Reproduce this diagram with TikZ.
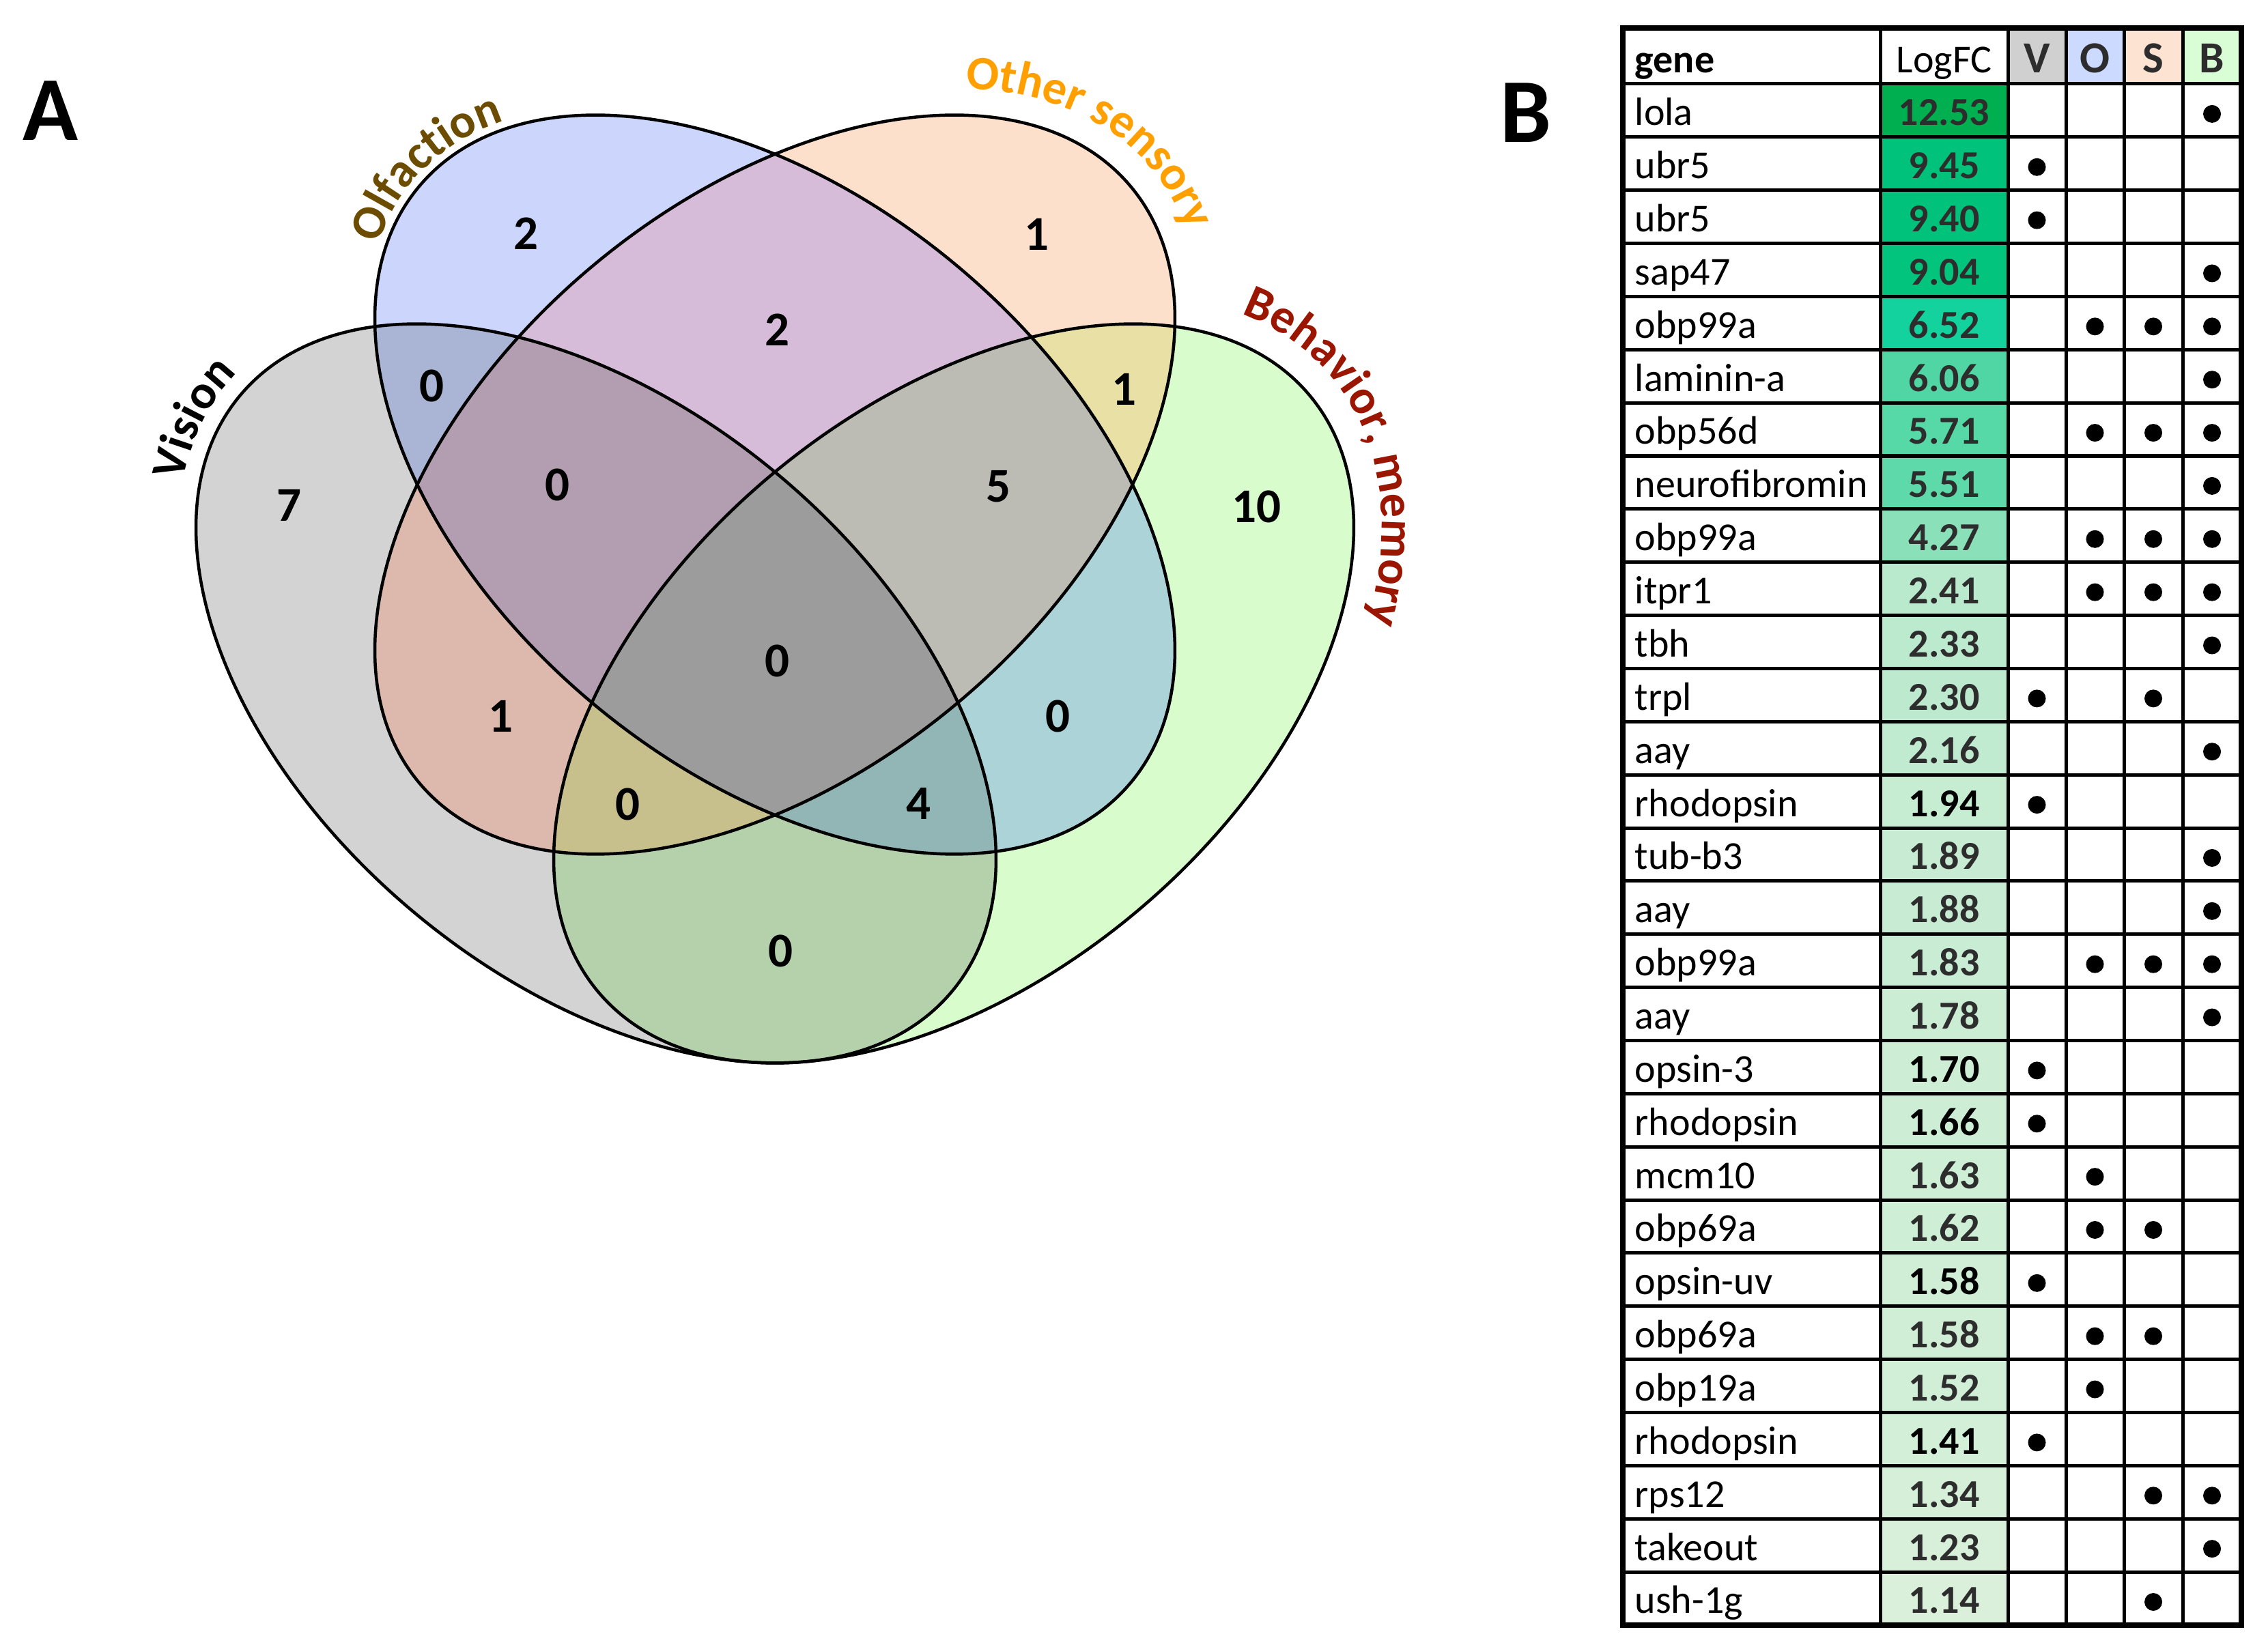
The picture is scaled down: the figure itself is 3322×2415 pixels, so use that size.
\documentclass[tikz,border=0pt]{standalone}
\usepackage{fontspec}
\setmainfont{Carlito}
\usetikzlibrary{decorations.text}
% single and overlap region colours
\definecolor{rV}{RGB}{211,211,211}
\definecolor{rO}{RGB}{204,213,252}
\definecolor{rS}{RGB}{253,224,203}
\definecolor{rB}{RGB}{216,252,204}
\definecolor{rVO}{RGB}{170,180,212}
\definecolor{rVS}{RGB}{220,185,172}
\definecolor{rVB}{RGB}{181,209,172}
\definecolor{rOS}{RGB}{214,188,216}
\definecolor{rOB}{RGB}{172,212,216}
\definecolor{rSB}{RGB}{232,224,164}
\definecolor{rVOS}{RGB}{179,157,176}
\definecolor{rVOB}{RGB}{146,182,182}
\definecolor{rVSB}{RGB}{200,192,140}
\definecolor{rOSB}{RGB}{188,188,180}
\definecolor{rVOSB}{RGB}{156,156,156}
\definecolor{olftxt}{RGB}{107,76,0}
\definecolor{othtxt}{RGB}{255,160,0}
\definecolor{behtxt}{RGB}{155,22,0}
\definecolor{numgray}{RGB}{45,45,45}
\definecolor{lowg}{RGB}{219,240,219}
\definecolor{midg}{RGB}{138,225,185}
\definecolor{hV}{RGB}{208,208,208}
\definecolor{hO}{RGB}{205,218,255}
\definecolor{hS}{RGB}{253,228,210}
\definecolor{hB}{RGB}{217,253,212}
\definecolor{cA}{RGB}{0,176,80}
\definecolor{cB}{RGB}{0,194,122}
\definecolor{cC}{RGB}{2,196,125}
\definecolor{cD}{RGB}{20,210,158}
\definecolor{cE}{RGB}{80,214,164}
\definecolor{cF}{RGB}{86,216,167}
\definecolor{cG}{RGB}{94,218,170}
\definecolor{cH}{RGB}{138,225,185}
\newcommand\lblfont{\fontsize{20}{24}\selectfont\bfseries}
\newcommand\numfont{\fontsize{20.2}{24}\selectfont\bfseries}
\newcommand\tabfont{\fontsize{16.5}{20}\selectfont}
\newcommand\hdrfont{\fontsize{18.5}{22}\selectfont\bfseries}
\newcommand\panelfont{\fontsize{38}{44}\selectfont\bfseries}
\newcommand\clipV{\clip[rotate around={-40:(cV)}] (cV) ellipse [x radius=680, y radius=417];}
\newcommand\clipO{\clip[rotate around={-40:(cO)}] (cO) ellipse [x radius=680, y radius=417];}
\newcommand\clipS{\clip[rotate around={40:(cS)}] (cS) ellipse [x radius=680, y radius=417];}
\newcommand\clipB{\clip[rotate around={40:(cB)}] (cB) ellipse [x radius=680, y radius=417];}
\newcommand\paint[1]{\fill[#1] (0,0) rectangle (2300,2415);}
\newcommand\trow[9]{%
  \pgfmathsetmacro\rb{2292-#1*77.86}%
  \pgfmathsetmacro\rc{\rb+38.93-5}%
  \fill[#4] (2754,\rb) rectangle (2941,\rb+77.86);
  \node[genetxt] (g#1) at (2394,\rb+17) {#2};
  \node[lfcval, text=#5] (l#1) at (2847.5,\rb+17) {#3};
  \ifnum#6=1 \node[tdot] (dv#1) at (2983.5,\rc) {};\fi
  \ifnum#7=1 \node[tdot] (do#1) at (3068.5,\rc) {};\fi
  \ifnum#8=1 \node[tdot] (ds#1) at (3154,\rc) {};\fi
  \ifnum#9=1 \node[tdot] (db#1) at (3240,\rc) {};\fi
}
\begin{document}
\begin{tikzpicture}[x=0.01cm, y=0.01cm,
  vline/.style={draw=black, line width=0.045cm},
  regnum/.style={inner sep=0, font=\numfont},
  genetxt/.style={anchor=base west, inner sep=0, font=\tabfont},
  lfcval/.style={anchor=base, inner sep=0, font=\tabfont\bfseries},
  hdr/.style={anchor=base, inner sep=0, font=\hdrfont, text=numgray},
  tdot/.style={circle, fill=black, inner sep=0, minimum size=0.26cm},
  gridln/.style={line width=0.05cm},
  panel/.style={inner sep=0, font=\panelfont}]
\useasboundingbox (0,0) rectangle (3322,2415);
\fill[white] (0,0) rectangle (3322,2415);
\coordinate (cV) at (873,1399);
\coordinate (cO) at (1135,1705);
\coordinate (cS) at (1135,1705);
\coordinate (cB) at (1397,1399);
% region fills, painted from single sets up to the four-way overlap
\begin{scope}\clipV\paint{rV}\end{scope}
\begin{scope}\clipO\paint{rO}\end{scope}
\begin{scope}\clipS\paint{rS}\end{scope}
\begin{scope}\clipB\paint{rB}\end{scope}
\begin{scope}\clipV\clipO\paint{rVO}\end{scope}
\begin{scope}\clipV\clipS\paint{rVS}\end{scope}
\begin{scope}\clipV\clipB\paint{rVB}\end{scope}
\begin{scope}\clipO\clipS\paint{rOS}\end{scope}
\begin{scope}\clipO\clipB\paint{rOB}\end{scope}
\begin{scope}\clipS\clipB\paint{rSB}\end{scope}
\begin{scope}\clipV\clipO\clipS\paint{rVOS}\end{scope}
\begin{scope}\clipV\clipO\clipB\paint{rVOB}\end{scope}
\begin{scope}\clipV\clipS\clipB\paint{rVSB}\end{scope}
\begin{scope}\clipO\clipS\clipB\paint{rOSB}\end{scope}
\begin{scope}\clipV\clipO\clipS\clipB\paint{rVOSB}\end{scope}
% outlines
\draw[vline, rotate around={-40:(cV)}] (cV) ellipse [x radius=680, y radius=417];
\draw[vline, rotate around={-40:(cO)}] (cO) ellipse [x radius=680, y radius=417];
\draw[vline, rotate around={40:(cS)}] (cS) ellipse [x radius=680, y radius=417];
\draw[vline, rotate around={40:(cB)}] (cB) ellipse [x radius=680, y radius=417];
% set labels along arcs
\begin{scope}[shift={(cV)}, rotate=-40]
  \path[decorate, decoration={text along path, text={|\lblfont|Vision}, text align=center, text color=black}]
    (217:705 and 442) arc [start angle=217, end angle=158, x radius=705, y radius=442];
\end{scope}
\begin{scope}[shift={(cO)}, rotate=-40]
  \path[decorate, decoration={text along path, text={|\lblfont|Olfaction}, text align=center, text color=olftxt}]
    (213:692 and 429) arc [start angle=213, end angle=141, x radius=692, y radius=429];
\end{scope}
\begin{scope}[shift={(cS)}, rotate=40]
  \path[decorate, decoration={text along path, text={|\lblfont|Other sensory}, text align=center, text color=othtxt}]
    (48:720 and 457) arc [start angle=48, end angle=-28, x radius=720, y radius=457];
\end{scope}
\begin{scope}[shift={(cB)}, rotate=40]
  \path[decorate, decoration={text along path, text={|\lblfont|Behavior, memory}, text align=center, text color=behtxt}]
    (31:722 and 459) arc [start angle=31, end angle=-52, x radius=722, y radius=459];
\end{scope}
% region counts
\node[regnum] (nO) at (770,2073) {2};
\node[regnum] (nVO) at (632,1850) {0};
\node[regnum] (nV) at (423,1675) {7};
\node[regnum] (nVOS) at (816,1705) {0};
\node[regnum] (nOS) at (1138,1932) {2};
\node[regnum] (nS) at (1518,2072) {1};
\node[regnum] (nSB) at (1646,1845) {1};
\node[regnum] (nOSB) at (1462,1702) {5};
\node[regnum] (nB) at (1840,1673) {10};
\node[regnum] (nAll) at (1138,1447) {0};
\node[regnum] (nVS) at (733,1366) {1};
\node[regnum] (nOB) at (1549,1366) {0};
\node[regnum] (nVSB) at (919,1237) {0};
\node[regnum] (nVOB) at (1345,1238) {4};
\node[regnum] (nVB) at (1143,1022) {0};
% panel letters
\node[panel] (pA) at (74,2253) {A};
\node[panel] (pB) at (2235,2250) {B};
% table header
\fill[hV] (2941,2292) rectangle (3026,2374);
\fill[hO] (3026,2292) rectangle (3111,2374);
\fill[hS] (3111,2292) rectangle (3197,2374);
\fill[hB] (3197,2292) rectangle (3283,2374);
\node[genetxt, font=\tabfont\bfseries] (hgene) at (2394,2308) {gene};
\node[anchor=base, inner sep=0, font=\tabfont] (hlfc) at (2847.5,2308) {LogFC};
\node[hdr] (hv) at (2983.5,2308) {V};
\node[hdr] (ho) at (3068.5,2308) {O};
\node[hdr] (hs) at (3154,2308) {S};
\node[hdr] (hb) at (3240,2308) {B};
% rows
\trow{1}{lola}{12.53}{cA}{numgray}{0}{0}{0}{1}
\trow{2}{ubr5}{9.45}{cB}{numgray}{1}{0}{0}{0}
\trow{3}{ubr5}{9.40}{cB}{numgray}{1}{0}{0}{0}
\trow{4}{sap47}{9.04}{cC}{numgray}{0}{0}{0}{1}
\trow{5}{obp99a}{6.52}{cD}{numgray}{0}{1}{1}{1}
\trow{6}{laminin-a}{6.06}{cE}{numgray}{0}{0}{0}{1}
\trow{7}{obp56d}{5.71}{cF}{numgray}{0}{1}{1}{1}
\trow{8}{neurofibromin}{5.51}{cG}{numgray}{0}{0}{0}{1}
\trow{9}{obp99a}{4.27}{cH}{numgray}{0}{1}{1}{1}
\trow{10}{itpr1}{2.41}{midg!41!lowg}{numgray}{0}{1}{1}{1}
\trow{11}{tbh}{2.33}{midg!38!lowg}{numgray}{0}{0}{0}{1}
\trow{12}{trpl}{2.30}{midg!37!lowg}{numgray}{1}{0}{1}{0}
\trow{13}{aay}{2.16}{midg!33!lowg}{numgray}{0}{0}{0}{1}
\trow{14}{rhodopsin}{1.94}{midg!26!lowg}{black}{1}{0}{0}{0}
\trow{15}{tub-b3}{1.89}{midg!24!lowg}{numgray}{0}{0}{0}{1}
\trow{16}{aay}{1.88}{midg!24!lowg}{numgray}{0}{0}{0}{1}
\trow{17}{obp99a}{1.83}{midg!22!lowg}{numgray}{0}{1}{1}{1}
\trow{18}{aay}{1.78}{midg!20!lowg}{numgray}{0}{0}{0}{1}
\trow{19}{opsin-3}{1.70}{midg!18!lowg}{black}{1}{0}{0}{0}
\trow{20}{rhodopsin}{1.66}{midg!17!lowg}{black}{1}{0}{0}{0}
\trow{21}{mcm10}{1.63}{midg!16!lowg}{numgray}{0}{1}{0}{0}
\trow{22}{obp69a}{1.62}{midg!15!lowg}{numgray}{0}{1}{1}{0}
\trow{23}{opsin-uv}{1.58}{midg!14!lowg}{black}{1}{0}{0}{0}
\trow{24}{obp69a}{1.58}{midg!14!lowg}{numgray}{0}{1}{1}{0}
\trow{25}{obp19a}{1.52}{midg!12!lowg}{numgray}{0}{1}{0}{0}
\trow{26}{rhodopsin}{1.41}{midg!9!lowg}{black}{1}{0}{0}{0}
\trow{27}{rps12}{1.34}{midg!6!lowg}{numgray}{0}{0}{1}{1}
\trow{28}{takeout}{1.23}{midg!3!lowg}{numgray}{0}{0}{0}{1}
\trow{29}{ush-1g}{1.14}{lowg}{numgray}{0}{0}{1}{0}
% grid
\foreach \k in {0,...,28} \draw[gridln] (2377,2292-\k*77.86) -- (3283,2292-\k*77.86);
\foreach \xx in {2754,2941,3026,3111,3197} \draw[gridln] (\xx,34) -- (\xx,2374);
\draw[line width=0.08cm] (2377,34) rectangle (3283,2374);
\end{tikzpicture}
\end{document}
